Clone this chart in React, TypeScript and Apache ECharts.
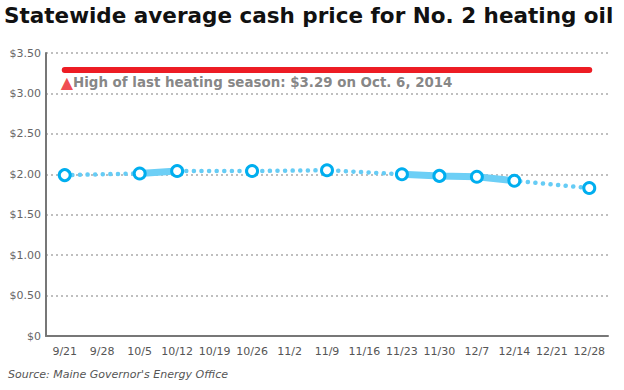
import React, { useEffect, useRef } from "react";
import * as echarts from "echarts";

const weeks = ["9/21", "9/28", "10/5", "10/12", "10/19", "10/26", "11/2", "11/9", "11/16", "11/23", "11/30", "12/7", "12/14", "12/21", "12/28"];
const prices: (number | null)[] = [1.99, null, 2.01, 2.04, null, 2.04, null, 2.05, null, 2.0, 1.98, 1.97, 1.92, null, 1.83];
const highValue = 3.29;
const highLabel = "High of last heating season: $3.29 on Oct. 6, 2014";
const titleText = "Statewide average cash price for No. 2 heating oil";
const sourceText = "Source: Maine Governor's Energy Office";

const FONT = "'DejaVu Sans', Verdana, sans-serif";

function solidSegments(vals: (number | null)[]): (number | null)[] {
  return vals.map((v, i) => {
    if (v === null) return null;
    const prev = i > 0 ? vals[i - 1] : null;
    const next = i < vals.length - 1 ? vals[i + 1] : null;
    return prev !== null || next !== null ? v : null;
  });
}

export default function App() {
  const ref = useRef<HTMLDivElement>(null);
  useEffect(() => {
    if (!ref.current) return;
    const chart = echarts.init(ref.current, undefined, { renderer: "svg" });
    chart.setOption({
      animation: false,
      textStyle: { fontFamily: FONT },
      title: {
        text: titleText,
        left: 4,
        top: 4,
        padding: 0,
        textStyle: { fontFamily: FONT, fontWeight: "bold", fontSize: 21.5, color: "#111" },
      },
      graphic: [
        {
          type: "text",
          left: 8,
          top: 369,
          style: { text: sourceText, font: `italic 11px ${FONT}`, fill: "#555" },
        },
      ],
      grid: { left: 46, right: 16, top: 53, bottom: 54, containLabel: false },
      xAxis: {
        type: "category",
        data: weeks,
        boundaryGap: true,
        axisLine: { lineStyle: { color: "#777", width: 2 } },
        axisTick: { show: false },
        axisLabel: { color: "#555", fontSize: 11, margin: 10, interval: 0, fontFamily: FONT },
        splitLine: { show: false },
      },
      yAxis: {
        type: "value",
        min: 0,
        max: 3.5,
        interval: 0.5,
        axisLine: { show: true, lineStyle: { color: "#777", width: 2 } },
        axisTick: { show: false },
        axisLabel: {
          color: "#666",
          fontSize: 11,
          margin: 5,
          fontFamily: FONT,
          formatter: (v: number) => (v === 0 ? "$0" : "$" + v.toFixed(2)),
        },
        splitLine: { lineStyle: { color: "#aaa", type: [2, 3], width: 1.5 } },
      },
      series: [
        {
          type: "line",
          data: weeks.map(() => highValue),
          symbol: "none",
          lineStyle: { color: "#ed1c24", width: 6, cap: "round" },
          silent: true,
          z: 2,
        },
        {
          type: "line",
          data: prices,
          connectNulls: true,
          symbol: "none",
          lineStyle: { color: "#66ccf5", width: 4.5, type: [0.1, 7.5], cap: "round" },
          z: 3,
        },
        {
          type: "line",
          data: solidSegments(prices),
          connectNulls: false,
          symbol: "none",
          lineStyle: { color: "#6dcff6", width: 7 },
          z: 4,
        },
        {
          type: "line",
          data: prices,
          connectNulls: true,
          showSymbol: true,
          symbol: "circle",
          symbolSize: 11,
          lineStyle: { opacity: 0 },
          itemStyle: { color: "#fff", borderColor: "#00aeef", borderWidth: 3 },
          z: 5,
        },
        {
          type: "scatter",
          data: [[0, highValue]],
          symbolSize: 0,
          label: {
            show: true,
            position: "bottom",
            distance: 5,
            align: "left",
            offset: [-4, 0],
            formatter: "{t|▲}{l|" + highLabel + "}",
            rich: {
              t: { color: "#ed1c24", fontSize: 16, fontFamily: FONT },
              l: { color: "#666", fontSize: 13.4, fontWeight: "bold", fontFamily: FONT },
            },
          },
          z: 6,
        },
      ],
    });
    return () => chart.dispose();
  }, []);
  return <div ref={ref} style={{ position: "absolute", left: 0, top: 0, width: 624, height: 390 }} />;
}
